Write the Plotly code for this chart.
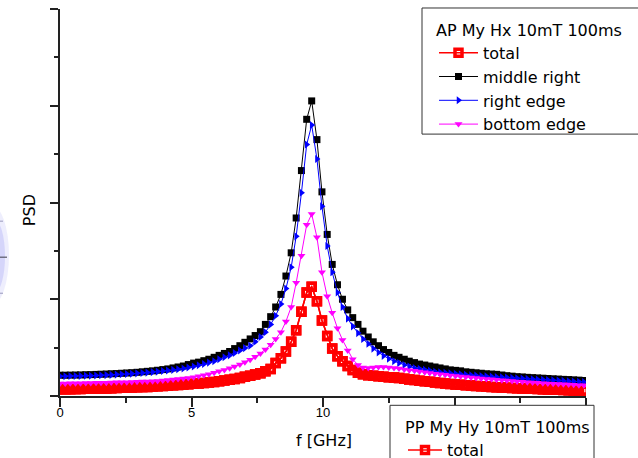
import plotly.graph_objects as go

# frequency grid [GHz]
freq = [0.00, 0.20, 0.39, 0.59, 0.78, 0.98, 1.17, 1.37, 1.56, 1.76,
        1.95, 2.15, 2.34, 2.54, 2.73, 2.93, 3.13, 3.32, 3.52, 3.71,
        3.91, 4.10, 4.30, 4.49, 4.69, 4.88, 5.08, 5.27, 5.47, 5.66,
        5.86, 6.05, 6.25, 6.45, 6.64, 6.84, 7.03, 7.23, 7.42, 7.62,
        7.81, 8.01, 8.20, 8.40, 8.59, 8.79, 8.98, 9.18, 9.38, 9.57,
        9.77, 9.96, 10.16, 10.35, 10.55, 10.74, 10.94, 11.13, 11.33, 11.52,
        11.72, 11.91, 12.11, 12.30, 12.50, 12.70, 12.89, 13.09, 13.28, 13.48,
        13.67, 13.87, 14.06, 14.26, 14.45, 14.65, 14.84, 15.04, 15.23, 15.43,
        15.63, 15.82, 16.02, 16.21, 16.41, 16.60, 16.80, 16.99, 17.19, 17.38,
        17.58, 17.77, 17.97, 18.16, 18.36, 18.55, 18.75, 18.95, 19.14, 19.34,
        19.53, 19.73, 19.92]

total = [0.070, 0.070, 0.071, 0.072, 0.073, 0.074, 0.075, 0.076, 0.077, 0.078,
         0.080, 0.082, 0.084, 0.086, 0.088, 0.090, 0.092, 0.094, 0.097, 0.100,
         0.103, 0.106, 0.110, 0.114, 0.118, 0.122, 0.126, 0.130, 0.135, 0.140,
         0.145, 0.152, 0.160, 0.168, 0.177, 0.187, 0.198, 0.210, 0.222, 0.236,
         0.255, 0.280, 0.340, 0.390, 0.460, 0.560, 0.680, 0.870, 1.070, 1.130,
         0.980, 0.780, 0.620, 0.490, 0.410, 0.360, 0.310, 0.270, 0.240, 0.225,
         0.215, 0.210, 0.205, 0.200, 0.195, 0.190, 0.185, 0.178, 0.171, 0.165,
         0.158, 0.152, 0.146, 0.140, 0.135, 0.130, 0.125, 0.120, 0.116, 0.112,
         0.108, 0.104, 0.100, 0.097, 0.094, 0.091, 0.088, 0.085, 0.082, 0.080,
         0.078, 0.076, 0.074, 0.072, 0.070, 0.068, 0.066, 0.064, 0.062, 0.060,
         0.058, 0.056, 0.055]

middle_right = [0.215, 0.215, 0.216, 0.217, 0.218, 0.220, 0.221, 0.223, 0.225, 0.227,
                0.230, 0.232, 0.235, 0.238, 0.241, 0.245, 0.250, 0.255, 0.260, 0.266,
                0.273, 0.280, 0.290, 0.300, 0.310, 0.325, 0.340, 0.350, 0.365, 0.380,
                0.400, 0.420, 0.440, 0.460, 0.490, 0.520, 0.555, 0.590, 0.625, 0.665,
                0.740, 0.820, 0.920, 1.050, 1.240, 1.480, 1.840, 2.330, 2.860, 3.050,
                2.650, 2.110, 1.670, 1.360, 1.150, 1.000, 0.890, 0.810, 0.740, 0.670,
                0.610, 0.560, 0.520, 0.480, 0.450, 0.420, 0.400, 0.380, 0.360, 0.345,
                0.330, 0.320, 0.310, 0.300, 0.290, 0.280, 0.270, 0.265, 0.260, 0.250,
                0.245, 0.240, 0.235, 0.230, 0.227, 0.224, 0.217, 0.210, 0.205, 0.200,
                0.197, 0.193, 0.190, 0.187, 0.184, 0.181, 0.178, 0.175, 0.172, 0.170,
                0.167, 0.164, 0.160]

right_edge = [0.205, 0.205, 0.206, 0.207, 0.208, 0.209, 0.210, 0.212, 0.214, 0.216,
              0.218, 0.221, 0.224, 0.227, 0.230, 0.234, 0.238, 0.242, 0.247, 0.252,
              0.258, 0.264, 0.270, 0.277, 0.285, 0.295, 0.305, 0.317, 0.330, 0.345,
              0.360, 0.380, 0.400, 0.420, 0.445, 0.470, 0.495, 0.520, 0.560, 0.610,
              0.660, 0.740, 0.830, 0.950, 1.110, 1.330, 1.650, 2.100, 2.600, 2.800,
              2.450, 1.960, 1.550, 1.280, 1.070, 0.920, 0.800, 0.720, 0.650, 0.590,
              0.540, 0.490, 0.450, 0.415, 0.385, 0.360, 0.340, 0.320, 0.305, 0.290,
              0.280, 0.270, 0.260, 0.250, 0.245, 0.240, 0.235, 0.230, 0.225, 0.220,
              0.215, 0.211, 0.207, 0.204, 0.200, 0.197, 0.194, 0.190, 0.187, 0.184,
              0.180, 0.177, 0.174, 0.171, 0.168, 0.165, 0.162, 0.159, 0.156, 0.153,
              0.150, 0.148, 0.145]

bottom_edge = [0.130, 0.130, 0.131, 0.132, 0.133, 0.134, 0.135, 0.136, 0.137, 0.138,
               0.140, 0.141, 0.142, 0.143, 0.145, 0.147, 0.149, 0.151, 0.153, 0.156,
               0.160, 0.165, 0.170, 0.175, 0.180, 0.187, 0.195, 0.204, 0.214, 0.226,
               0.240, 0.255, 0.270, 0.287, 0.305, 0.325, 0.350, 0.375, 0.405, 0.440,
               0.480, 0.530, 0.590, 0.660, 0.770, 0.920, 1.170, 1.450, 1.770, 1.880,
               1.640, 1.280, 1.030, 0.860, 0.700, 0.580, 0.470, 0.380, 0.320, 0.295,
               0.290, 0.295, 0.300, 0.300, 0.295, 0.290, 0.283, 0.275, 0.267, 0.260,
               0.252, 0.245, 0.238, 0.231, 0.225, 0.219, 0.213, 0.207, 0.202, 0.197,
               0.192, 0.187, 0.182, 0.177, 0.172, 0.167, 0.163, 0.159, 0.155, 0.151,
               0.147, 0.143, 0.140, 0.136, 0.133, 0.130, 0.127, 0.124, 0.121, 0.118,
               0.115, 0.112, 0.110]

# labels for 15 and 20 are hidden behind the second legend in the original
x_tick_vals = [0, 5, 10, 15, 20]
x_tick_text = ["0", "5", "10", "", ""]

FONT = "DejaVu Sans, Verdana, sans-serif"
TICKFONT = "Liberation Sans, Arial, Helvetica, sans-serif"

fig = go.Figure()

red_marker = dict(symbol="square-open", size=7, color="#ff0000",
                  line=dict(color="#ff0000", width=3.5))

# PP total (second legend)
fig.add_trace(go.Scatter(x=freq, y=total, mode="lines+markers", name="total",
                         legend="legend2",
                         line=dict(color="#ff0000", width=1.5), marker=red_marker))
# AP series (first legend)
fig.add_trace(go.Scatter(x=freq, y=total, mode="lines+markers", name="total",
                         legend="legend",
                         line=dict(color="#ff0000", width=1.5), marker=red_marker))
fig.add_trace(go.Scatter(x=freq, y=middle_right, mode="lines+markers", name="middle right",
                         line=dict(color="#000000", width=1),
                         marker=dict(symbol="square", size=7, color="#000000")))
fig.add_trace(go.Scatter(x=freq, y=right_edge, mode="lines+markers", name="right edge",
                         line=dict(color="#0000ff", width=1),
                         marker=dict(symbol="triangle-right", size=7, color="#0000ff")))
fig.add_trace(go.Scatter(x=freq, y=bottom_edge, mode="lines+markers", name="bottom edge",
                         line=dict(color="#ff00ff", width=1),
                         marker=dict(symbol="triangle-down", size=7, color="#ff00ff")))

# plot area: x 60..586 px, y 9..395.7 px
def px_x(p):
    return (p - 60) / 526.0

def px_y(p):
    return (395.7 - p) / 386.7

shapes = [
    dict(type="circle", xref="paper", yref="paper", layer="below",
         x0=px_x(-26), x1=px_x(9), y0=px_y(305), y1=px_y(205),
         fillcolor="rgba(160,160,245,0.18)", line=dict(width=0)),
    dict(type="circle", xref="paper", yref="paper", layer="below",
         x0=px_x(-16), x1=px_x(5), y0=px_y(292), y1=px_y(220),
         fillcolor="rgba(140,140,245,0.25)", line=dict(width=0)),
    dict(type="line", xref="paper", yref="paper",
         x0=px_x(0), x1=px_x(7), y0=px_y(257), y1=px_y(257),
         line=dict(color="#555566", width=1.2)),
    dict(type="line", xref="paper", yref="paper",
         x0=px_x(0), x1=px_x(3), y0=px_y(221), y1=px_y(221),
         line=dict(color="#9999bb", width=1)),
    dict(type="line", xref="paper", yref="paper",
         x0=px_x(0), x1=px_x(3), y0=px_y(293), y1=px_y(293),
         line=dict(color="#9999bb", width=1)),
    # legend frames
    dict(type="rect", xref="paper", yref="paper", layer="above",
         x0=px_x(422), x1=px_x(660), y0=px_y(134), y1=px_y(8),
         fillcolor="white", line=dict(color="#333333", width=1)),
    dict(type="rect", xref="paper", yref="paper", layer="above",
         x0=px_x(390), x1=px_x(594), y0=px_y(480), y1=px_y(405),
         fillcolor="white", line=dict(color="#333333", width=1)),
]

fig.update_layout(
    width=638, height=458,
    margin=dict(l=60, r=52, t=9, b=62.3, autoexpand=False),
    paper_bgcolor="white", plot_bgcolor="white",
    font=dict(family=FONT, color="black", size=13),
    showlegend=True,
    shapes=shapes,
    xaxis=dict(range=[0, 20], tickmode="array", tickvals=x_tick_vals, ticktext=x_tick_text,
               ticks="outside", ticklen=9, tickwidth=1.5, tickcolor="#222",
               minor=dict(dtick=2.5, ticks="outside", ticklen=5, tickwidth=1.5, tickcolor="#222"),
               showline=True, linecolor="#222", linewidth=1.5, showgrid=False, zeroline=False,
               ticklabelstandoff=-5,
               tickfont=dict(size=13, family=TICKFONT)),
    yaxis=dict(range=[0, 4], dtick=1, showticklabels=False,
               ticks="outside", ticklen=8, tickwidth=1.5, tickcolor="#222",
               minor=dict(dtick=0.5, ticks="outside", ticklen=4, tickwidth=1.5, tickcolor="#222"),
               showline=True, linecolor="#222", linewidth=1.5, showgrid=False, zeroline=False),
    legend=dict(x=px_x(434), y=px_y(15), xanchor="left", yanchor="top",
                bgcolor="rgba(0,0,0,0)", borderwidth=0,
                font=dict(family=FONT, size=16, color="black"),
                title=dict(text="AP My Hx 10mT 100ms", font=dict(family=FONT, size=16)),
                itemwidth=39, tracegroupgap=0, traceorder="normal"),
    legend2=dict(x=px_x(403), y=px_y(412), xanchor="left", yanchor="top",
                 bgcolor="rgba(0,0,0,0)", borderwidth=0,
                 font=dict(family=FONT, size=16, color="black"),
                 title=dict(text="PP My Hy 10mT 100ms", font=dict(family=FONT, size=16)),
                 itemwidth=34, tracegroupgap=0),
    annotations=[
        dict(text="PSD", xref="paper", yref="paper", x=px_x(29), y=px_y(210),
             xanchor="center", yanchor="middle",
             textangle=-90, showarrow=False, font=dict(family=FONT, size=16)),
        dict(text="f [GHz]", xref="paper", yref="paper", x=px_x(324), y=px_y(440),
             xanchor="center", yanchor="middle",
             showarrow=False, font=dict(family=FONT, size=16)),
    ],
)

fig.write_html("out.html", config={"displayModeBar": False},
               post_script="document.body.style.margin='0';")
